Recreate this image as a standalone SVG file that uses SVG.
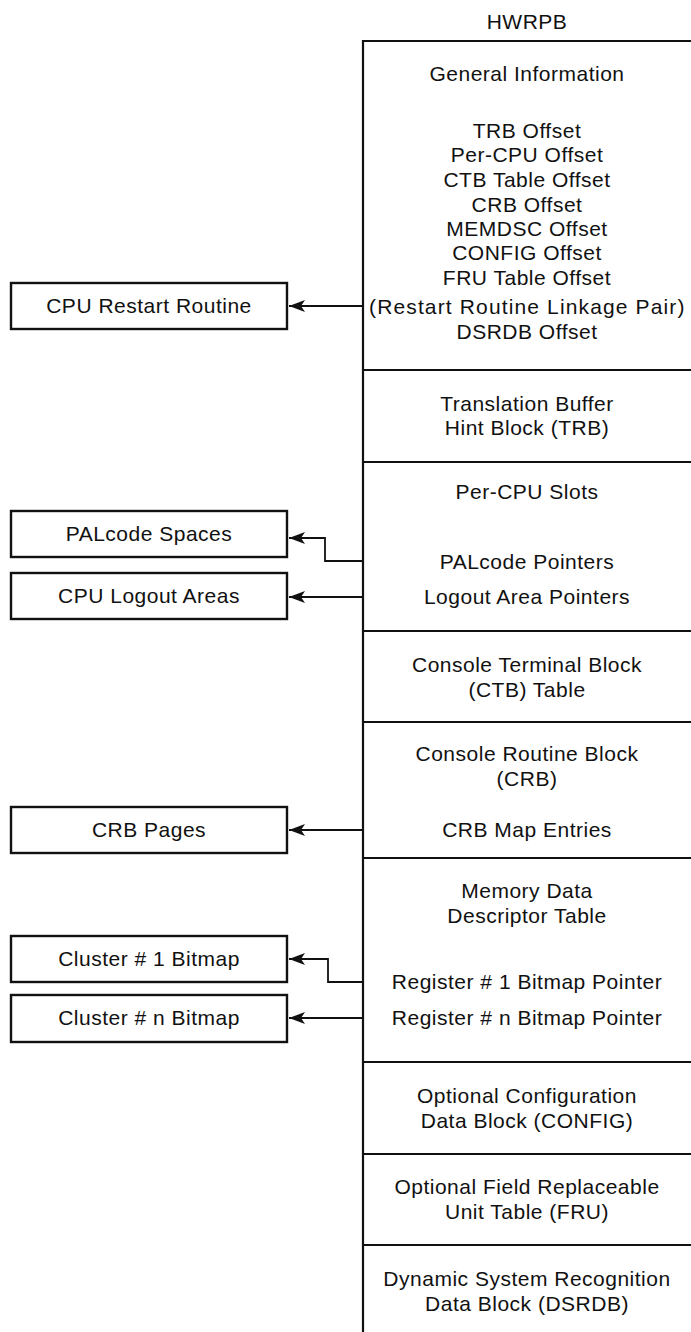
<svg xmlns="http://www.w3.org/2000/svg" width="691" height="1332" viewBox="0 0 691 1332">
<style>
text{font-family:"Liberation Sans",Arial,sans-serif;font-size:21px;letter-spacing:0.5px;fill:#111;text-anchor:middle}
.box{fill:#fff;stroke:#111;stroke-width:2.4}
.div{stroke:#111;stroke-width:2.2;fill:none}
.con{stroke:#111;stroke-width:1.8;fill:none}
</style>
<defs>
<marker id="ah" markerWidth="16" markerHeight="12" refX="16" refY="6" orient="auto" markerUnits="userSpaceOnUse">
<path d="M0,0 L16,6 L0,12 L4,6 Z" fill="#111"/>
</marker>
</defs>
<rect width="691" height="1332" fill="#fff"/>
<g id="hwrpb">
<text x="527" y="29">HWRPB</text>
<path class="div" d="M363,1332 V41 H691"/>
<path class="div" d="M363,370 H691 M363,462 H691 M363,631 H691 M363,722 H691 M363,858 H691 M363,1062 H691 M363,1154 H691 M363,1245 H691"/>
</g>
<g id="general">
<text x="527" y="81">General Information</text>
<text x="527" y="138">TRB Offset</text>
<text x="527" y="162">Per-CPU Offset</text>
<text x="527" y="187">CTB Table Offset</text>
<text x="527" y="212">CRB Offset</text>
<text x="527" y="236">MEMDSC Offset</text>
<text x="527" y="260">CONFIG Offset</text>
<text x="527" y="285">FRU Table Offset</text>
<text x="527" y="314" textLength="316" lengthAdjust="spacing">(Restart Routine Linkage Pair)</text>
<text x="527" y="339">DSRDB Offset</text>
</g>
<g id="trb">
<text x="527" y="411">Translation Buffer</text>
<text x="527" y="435">Hint Block (TRB)</text>
</g>
<g id="percpu">
<text x="527" y="499">Per-CPU Slots</text>
<text x="527" y="569">PALcode Pointers</text>
<text x="527" y="604">Logout Area Pointers</text>
</g>
<g id="ctb">
<text x="527" y="672">Console Terminal Block</text>
<text x="527" y="697">(CTB) Table</text>
</g>
<g id="crb">
<text x="527" y="761">Console Routine Block</text>
<text x="527" y="786">(CRB)</text>
<text x="527" y="837">CRB Map Entries</text>
</g>
<g id="memdsc">
<text x="527" y="898">Memory Data</text>
<text x="527" y="923">Descriptor Table</text>
<text x="527" y="989">Register # 1 Bitmap Pointer</text>
<text x="527" y="1025">Register # n Bitmap Pointer</text>
</g>
<g id="config">
<text x="527" y="1103">Optional Configuration</text>
<text x="527" y="1128">Data Block (CONFIG)</text>
</g>
<g id="fru">
<text x="527" y="1194">Optional Field Replaceable</text>
<text x="527" y="1219">Unit Table (FRU)</text>
</g>
<g id="dsrdb">
<text x="527" y="1286">Dynamic System Recognition</text>
<text x="527" y="1311">Data Block (DSRDB)</text>
</g>
<g id="cpu-restart">
<rect class="box" x="11" y="283" width="276" height="46"/>
<text x="149" y="313">CPU Restart Routine</text>
</g>
<g id="palcode-spaces">
<rect class="box" x="11" y="511" width="276" height="46"/>
<text x="149" y="541">PALcode Spaces</text>
</g>
<g id="cpu-logout">
<rect class="box" x="11" y="573" width="276" height="46"/>
<text x="149" y="603">CPU Logout Areas</text>
</g>
<g id="crb-pages">
<rect class="box" x="11" y="807" width="276" height="46"/>
<text x="149" y="837">CRB Pages</text>
</g>
<g id="cluster1">
<rect class="box" x="11" y="936" width="276" height="46"/>
<text x="149" y="966">Cluster # 1 Bitmap</text>
</g>
<g id="clustern">
<rect class="box" x="11" y="995" width="276" height="47"/>
<text x="149" y="1025">Cluster # n Bitmap</text>
</g>
<g id="connectors">
<path class="con" d="M363,306 H289" marker-end="url(#ah)"/>
<path class="con" d="M363,561 H325 V538 H289" marker-end="url(#ah)"/>
<path class="con" d="M363,597 H289" marker-end="url(#ah)"/>
<path class="con" d="M363,830 H289" marker-end="url(#ah)"/>
<path class="con" d="M363,982 H328 V959 H289" marker-end="url(#ah)"/>
<path class="con" d="M363,1018 H289" marker-end="url(#ah)"/>
</g>
</svg>
